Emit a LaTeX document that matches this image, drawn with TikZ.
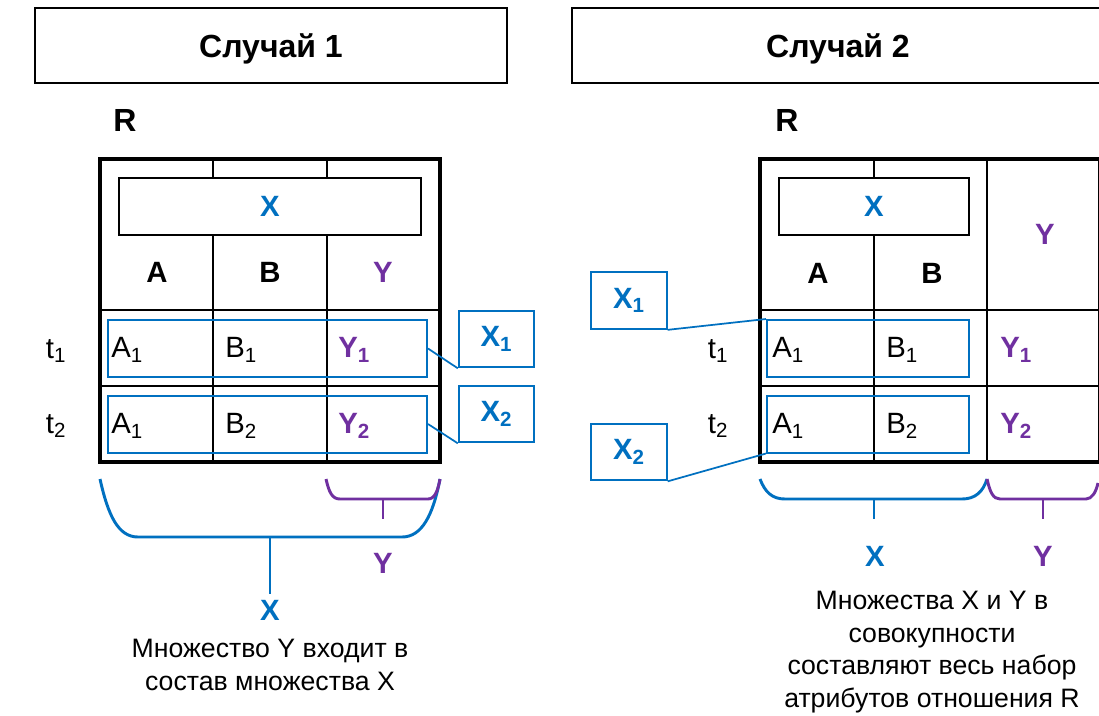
\documentclass[tikz,border=0pt]{standalone}
\usepackage{fontspec}
\setmainfont{Liberation Sans}
\definecolor{xblue}{HTML}{0070C0}
\definecolor{ypurp}{HTML}{7030A0}
\begin{document}
\begin{tikzpicture}[x=0.75pt,y=-0.75pt,
  big/.style={font=\fontsize{22}{26}\selectfont\bfseries},
  cell/.style={font=\fontsize{22}{26}\selectfont, anchor=west, inner sep=0pt},
  hdrbox/.style={draw=black, line width=1.1pt, minimum width=#1, minimum height=56.25pt, inner sep=0pt, text depth=0pt, font=\fontsize{24}{28}\selectfont\bfseries},
  xbox/.style={draw=black, line width=1.1pt, minimum width=#1, minimum height=42.75pt, inner sep=0pt},
  rowbox/.style={draw=xblue, line width=1.5pt, minimum width=#1, minimum height=42.75pt, inner sep=0pt},
  lblbox/.style={draw=xblue, line width=1.5pt, minimum width=56.5pt, minimum height=42.5pt, inner sep=0pt, text=xblue, font=\fontsize{22}{26}\selectfont\bfseries},
  rname/.style={font=\fontsize{24}{28}\selectfont\bfseries},
  outer/.style={line width=3.4pt},
  grid/.style={line width=1.5pt},
  conn/.style={draw=xblue, line width=1.3pt},
  bbrace/.style={draw=xblue, line width=2.2pt},
  pbrace/.style={draw=ypurp, line width=2.2pt},
  note/.style={font=\fontsize{20}{24.5}\selectfont, align=center}
]
\clip (0,0) rectangle (1099,715);
\fill[white] (0,0) rectangle (1099,715);

% ---------- Case 1 ----------
\node[hdrbox=354pt] (h1) at (271,45.5) {Случай 1};
\node[rname] (R1) at (125,120) {R};

\draw[grid] (100,310) -- (440,310);
\draw[grid] (100,386) -- (440,386);
\draw[grid] (213,159) -- (213,178) (213,235) -- (213,462);
\draw[grid] (327,159) -- (327,178) (327,235) -- (327,462);
\draw[outer] (100,159) rectangle (440,462);
\node[xbox=226.5pt, big, text=xblue] (xh1) at (270,206.5) {X};
\node[big] (a1h) at (157,272) {A};
\node[big] (b1h) at (270,272) {B};
\node[big, text=ypurp] (y1h) at (383,272) {Y};

\node[rowbox=239.25pt] (r1) at (267.5,348.5) {};
\node[rowbox=239.25pt] (r2) at (267.5,424) {};

\node[cell] (c11) at (111,350) {A\textsubscript{1}};
\node[cell] (c12) at (225,350) {B\textsubscript{1}};
\node[cell, text=ypurp, font=\fontsize{22}{26}\selectfont\bfseries] (c13) at (338,350) {Y\textsubscript{1}};
\node[cell] (c21) at (111,426) {A\textsubscript{1}};
\node[cell] (c22) at (225,426) {B\textsubscript{2}};
\node[cell, text=ypurp, font=\fontsize{22}{26}\selectfont\bfseries] (c23) at (338,426) {Y\textsubscript{2}};

\node[font=\fontsize{22}{26}\selectfont] (t1a) at (56,351) {t\textsubscript{1}};
\node[font=\fontsize{22}{26}\selectfont] (t2a) at (56,426) {t\textsubscript{2}};

\node[lblbox] (lx1) at (496.5,339) {X\textsubscript{1}};
\node[lblbox] (lx2) at (496.5,414) {X\textsubscript{2}};
\draw[conn] (r1.east) -- (lx1.south west);
\draw[conn] (r2.east) -- (lx2.south west);

\coordinate (bx1) at (270,537);
\coordinate (by1) at (383,499);
\draw[bbrace] (100,479) .. controls (108,515) and (118,537) .. (138,537) -- (402,537) .. controls (422,537) and (433,515) .. (440,479);
\draw[pbrace] (326,479) .. controls (329,492) and (332,499) .. (340,499) -- (428,499) .. controls (435,499) and (438,490) .. (440,479);
\node[big, text=xblue] (lX) at (270,610) {X};
\node[big, text=ypurp] (lY) at (383,563) {Y};
\draw[bbrace] (bx1) -- (270,594);
\draw[pbrace] (by1) -- (383,519);

\node[note] (n1) at (270,665) {Множество Y входит в\\состав множества X};

% ---------- Case 2 ----------
\node[hdrbox=399pt] (h2) at (838,45.5) {Случай 2};
\node[rname] (R2) at (787,120) {R};

\draw[grid] (760,310) -- (1100,310);
\draw[grid] (760,386) -- (1100,386);
\draw[grid] (874,159) -- (874,178) (874,235) -- (874,462);
\draw[grid] (987,159) -- (987,462);
\draw[outer] (760,159) rectangle (1100.5,462);
\node[xbox=142.5pt, big, text=xblue] (xh2) at (874,206.5) {X};
\node[big] (a2h) at (818,273) {A};
\node[big] (b2h) at (932,273) {B};
\node[big, text=ypurp] (y2h) at (1045,234) {Y};

\node[rowbox=151.5pt] (s1) at (868,348.5) {};
\node[rowbox=151.5pt] (s2) at (868,424) {};

\node[cell] (d11) at (772,350) {A\textsubscript{1}};
\node[cell] (d12) at (886,350) {B\textsubscript{1}};
\node[cell, text=ypurp, font=\fontsize{22}{26}\selectfont\bfseries] (d13) at (1000,350) {Y\textsubscript{1}};
\node[cell] (d21) at (772,426) {A\textsubscript{1}};
\node[cell] (d22) at (886,426) {B\textsubscript{2}};
\node[cell, text=ypurp, font=\fontsize{22}{26}\selectfont\bfseries] (d23) at (1000,426) {Y\textsubscript{2}};

\node[font=\fontsize{22}{26}\selectfont] (t1b) at (718,351) {t\textsubscript{1}};
\node[font=\fontsize{22}{26}\selectfont] (t2b) at (718,426) {t\textsubscript{2}};

\node[lblbox] (rx1) at (629,300.5) {X\textsubscript{1}};
\node[lblbox] (rx2) at (629,452) {X\textsubscript{2}};
\draw[conn] (rx1.south east) -- (s1.north west);
\draw[conn] (rx2.south east) -- (s2.south west);

\coordinate (bx2) at (874,499);
\coordinate (by2) at (1043,499);
\draw[bbrace] (760,479) .. controls (765,492) and (772,499) .. (785,499) -- (962,499) .. controls (975,499) and (983,492) .. (987,479);
\draw[pbrace] (987,479) .. controls (990,492) and (993,499) .. (1000,499) -- (1086,499) .. controls (1092,499) and (1096,492) .. (1098,483);
\node[big, text=xblue] (rX) at (875,556) {X};
\node[big, text=ypurp] (rY) at (1043,556) {Y};
\draw[bbrace] (bx2) -- (874,519);
\draw[pbrace] (by2) -- (1043,519);

\node[note] (n2) at (932,652) {Множества X и Y в\\совокупности\\составляют весь набор\\атрибутов отношения R};
\end{tikzpicture}
\end{document}
